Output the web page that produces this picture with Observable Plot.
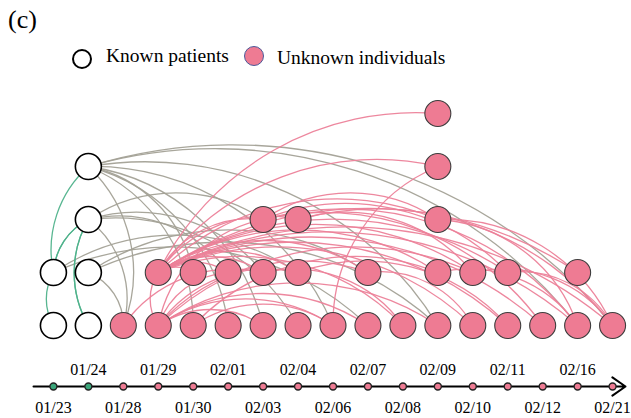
<!DOCTYPE html>
<html><head><meta charset="utf-8">
<script src="https://cdn.jsdelivr.net/npm/d3@7"></script>
<script src="https://cdn.jsdelivr.net/npm/@observablehq/plot@0.6"></script>
<style>
body{margin:0;background:#fff;font-family:"Liberation Serif","Times New Roman",serif;color:#000;}
#wrap{width:631px;}
#head{position:relative;height:85px;}
#tag{position:absolute;left:8px;top:5px;font-size:26px;line-height:30px;}
.sw{position:absolute;border-radius:50%;box-sizing:border-box;}
.lt{position:absolute;font-size:19.5px;line-height:22px;white-space:nowrap;}
#chart svg text{font-family:"Liberation Serif","Times New Roman",serif;}
</style></head>
<body><div id="wrap">
<div id="head">
  <div id="tag">(c)</div>
  <div class="sw" style="left:72px;top:49px;width:20px;height:20px;border:2px solid #000;background:#fff"></div>
  <div class="lt" style="left:106px;top:45px">Known patients</div>
  <div class="sw" style="left:244px;top:46px;width:20px;height:20px;border:1.3px solid #4a5a9a;background:#ee7b93"></div>
  <div class="lt" style="left:277px;top:47px">Unknown individuals</div>
</div>
<div id="chart"></div>
</div>
<script>
const dates = ["01/23","01/24","01/28","01/29","01/30","02/01","02/03","02/04","02/06","02/07","02/08","02/09","02/10","02/11","02/12","02/16","02/21"];
const knownDates = ["01/23","01/24"];
const nodeRows = [[1,2],[1,2,3,4],[1],[1,2],[1,2],[1,2],[1,2,3],[1,2,3],[1],[1,2],[1],[1,2,3,4,5],[1,2],[1,2],[1],[1,2],[1]];

const greenEdges = [
  ["01/23",2,"01/24",4],["01/23",2,"01/24",3],["01/23",2,"01/24",3],
  ["01/24",1,"01/24",3],["01/24",1,"01/24",3],["01/23",1,"01/23",2]
];
const grayEdges = [
  ["01/24",4,"01/28",1],["01/24",4,"01/30",1],["01/24",4,"02/01",1],["01/24",4,"02/03",1],
  ["01/24",4,"02/06",1],["01/24",4,"02/16",1],["01/24",4,"02/21",1],["01/24",4,"01/30",2],
  ["01/24",4,"02/09",1],
  ["01/24",3,"01/28",1],["01/24",3,"02/03",3],["01/24",3,"02/01",2],["01/24",3,"02/03",2],
  ["01/24",3,"02/04",1],["01/24",2,"01/28",1],["01/24",2,"02/07",2],["01/24",2,"02/09",1],
  ["01/23",2,"02/04",2],["01/23",2,"02/07",1]
];
const pinkEdges = [
  ["01/29",2,"02/03",3],["01/29",2,"02/04",3],["01/29",2,"02/09",5],["01/29",2,"02/09",4],
  ["01/29",2,"02/09",3],["01/29",2,"02/07",2],["01/29",2,"02/09",2],["01/29",2,"02/10",2],
  ["01/29",2,"02/11",2],["01/29",2,"02/16",2],["01/29",2,"02/16",1],["01/29",2,"02/21",1],
  ["01/29",2,"02/12",1],["01/29",2,"02/11",1],["01/29",2,"02/10",1],["01/29",2,"02/08",1],
  ["01/29",2,"02/03",2],["01/29",2,"02/01",2],["01/29",2,"01/30",2],["01/29",2,"02/04",2],
  ["01/29",1,"01/29",2],["01/29",1,"02/01",2],["01/29",1,"02/04",2],["01/29",1,"02/03",1],
  ["01/29",1,"02/06",1],["01/29",1,"02/07",1],["01/29",1,"02/09",1],["01/29",1,"02/10",2],
  ["01/29",1,"02/07",2],["01/29",1,"02/03",3],
  ["01/28",1,"02/03",2],["01/30",1,"02/06",1],["01/30",1,"02/09",2],
  ["02/06",1,"02/09",4],
  ["02/03",3,"02/09",3],["02/03",3,"02/11",2],["02/03",3,"02/16",1],["02/04",3,"02/10",2],
  ["02/04",3,"02/21",1],["02/03",3,"02/12",1],
  ["02/03",2,"02/08",1],["02/04",2,"02/11",1],["02/07",2,"02/10",1],["02/09",2,"02/16",1],
  ["02/10",2,"02/21",1],["02/11",2,"02/21",1],["02/09",3,"02/16",1],["02/09",3,"02/21",1]
];

const TL = -0.15;           // timeline level, in row units
const xDomain = [-0.57, 16.37];
const idx = d => dates.indexOf(d);
const pink = "#ee7b93";
const serif = "Liberation Serif, Times New Roman, serif";
const nodes = dates.flatMap((d, i) => nodeRows[i].map(r => ({date: d, row: r, known: knownDates.includes(d)})));

const edgeOpts = (color, bend) => ({
  x1: e => idx(e[0]), y1: e => e[1], x2: e => idx(e[2]), y2: e => e[3],
  bend, headLength: 0, stroke: color, strokeWidth: 1.3, strokeOpacity: 0.95
});

const chart = Plot.plot({
  width: 631, height: 333,
  marginLeft: 33, marginRight: 6, marginTop: 0, marginBottom: 0,
  x: {type: "linear", domain: xDomain, axis: null},
  y: {type: "linear", domain: [TL, 5], range: [301, 28], axis: null},
  style: {fontFamily: serif, background: "#fff"},
  marks: [
    Plot.arrow(grayEdges, edgeOpts("#a3a196", 34)),
    Plot.arrow(pinkEdges, edgeOpts("#ec8199", 34)),
    Plot.arrow(greenEdges, edgeOpts("#4fb28b", 30)),
    Plot.dot(nodes, {x: d => idx(d.date), y: "row", r: 13,
      fill: d => d.known ? "#fff" : pink, stroke: d => d.known ? "#000" : "#3d3d3d",
      strokeWidth: d => d.known ? 1.6 : 1.1}),
    Plot.arrow([0], {x1: () => xDomain[0], x2: () => xDomain[1], y1: () => TL, y2: () => TL,
      stroke: "#000", strokeWidth: 2, headLength: 12, headAngle: 70}),
    Plot.dot(dates, {x: (d, i) => i, y: () => TL, r: 3.5,
      fill: d => knownDates.includes(d) ? "#3aa57a" : pink, stroke: "#222", strokeWidth: 1.4}),
    Plot.text(dates, {filter: (d, i) => i % 2 === 1, x: d => dates.indexOf(d), y: () => TL,
      text: d => d, dy: -17, fontSize: 16, fontFamily: serif, fill: "#000"}),
    Plot.text(dates, {filter: (d, i) => i % 2 === 0, x: d => dates.indexOf(d), y: () => TL,
      text: d => d, dy: 21, fontSize: 16, fontFamily: serif, fill: "#000"})
  ]
});
document.getElementById("chart").appendChild(chart);
</script>
</body></html>
